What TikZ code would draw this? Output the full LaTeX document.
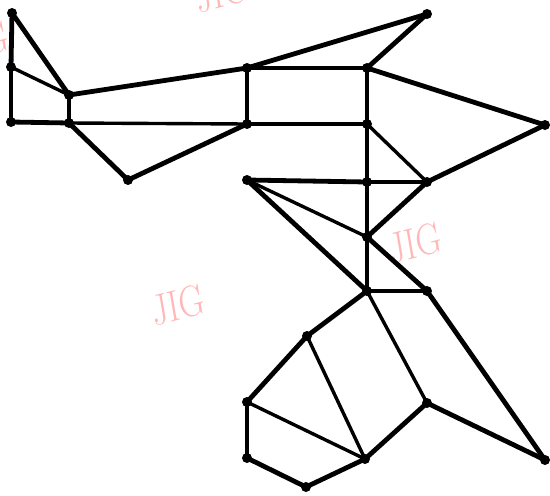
\documentclass[tikz,border=0pt]{standalone}
\begin{document}
\begin{tikzpicture}[x=1pt,y=-1pt,
  dot/.style={circle,fill=black,inner sep=0pt,minimum size=10pt},
  thk/.style={line width=4.8pt,line cap=round,line join=round},
  thn/.style={line width=3.4pt,line cap=round,line join=round},
  wm/.style={text=red!28,font=\fontsize{44}{46}\selectfont,xscale=0.8,rotate=12,inner sep=0pt}]
\useasboundingbox (0,0) rectangle (550,496);
\begin{scope}
\clip (0,0) rectangle (550,496);
\node[wm] (w1) at (178,305) {JIG};
\node[wm] (w2) at (415,243) {JIG};
\node[wm] (w3) at (222,-8) {JIG};
\node[wm] (w4) at (-18,42) {JIG};
\end{scope}
% nodes
\node[dot] (A) at (12,13) {};
\node[dot] (B) at (11,67) {};
\node[dot] (C) at (69,95) {};
\node[dot] (D) at (11,122) {};
\node[dot] (E) at (69,123) {};
\node[dot] (F) at (128,180) {};
\node[dot] (G) at (247,68) {};
\node[dot] (H) at (247,124) {};
\node[dot] (I) at (247,180) {};
\node[dot] (J) at (427,14) {};
\node[dot] (K) at (367,68) {};
\node[dot] (L) at (545,125) {};
\node[dot] (M) at (367,124) {};
\node[dot] (N) at (427,182) {};
\node[dot] (O) at (367,182) {};
\node[dot] (P) at (367,237) {};
\node[dot] (Q) at (367,291) {};
\node[dot] (R) at (427,291) {};
\node[dot] (S) at (307,336) {};
\node[dot] (T) at (247,402) {};
\node[dot] (U) at (247,458) {};
\node[dot] (V) at (306,487) {};
\node[dot] (W) at (365,459) {};
\node[dot] (X) at (427,403) {};
\node[dot] (Y) at (545,460) {};
% edges
\draw[thk] (A.center) -- (B.center);
\draw[thk] (B.center) -- (D.center);
\draw[thk] (A.center) -- (C.center);
\draw[thn] (B.center) -- (C.center);
\draw[thn] (C.center) -- (E.center);
\draw[thk] (D.center) -- (E.center);
\draw[thk] (C.center) -- (G.center);
\draw[thn] (E.center) -- (H.center);
\draw[thk] (E.center) -- (F.center);
\draw[thk] (F.center) -- (H.center);
\draw[thn] (G.center) -- (H.center);
\draw[thn] (G.center) -- (K.center);
\draw[thk] (G.center) -- (J.center);
\draw[thk] (J.center) -- (K.center);
\draw[thk] (K.center) -- (L.center);
\draw[thn] (K.center) -- (M.center);
\draw[thk] (H.center) -- (M.center);
\draw[thn] (M.center) -- (N.center);
\draw[thk] (L.center) -- (N.center);
\draw[thk] (M.center) -- (O.center);
\draw[thk] (I.center) -- (O.center);
\draw[thn] (O.center) -- (N.center);
\draw[thn] (I.center) -- (P.center);
\draw[thk] (I.center) -- (Q.center);
\draw[thk] (N.center) -- (P.center);
\draw[thn] (O.center) -- (P.center);
\draw[thn] (P.center) -- (Q.center);
\draw[thk] (P.center) -- (R.center);
\draw[thn] (Q.center) -- (R.center);
\draw[thk] (R.center) -- (Y.center);
\draw[thk] (Q.center) -- (S.center);
\draw[thn] (Q.center) -- (X.center);
\draw[thk] (S.center) -- (T.center);
\draw[thn] (S.center) -- (W.center);
\draw[thn] (T.center) -- (W.center);
\draw[thk] (T.center) -- (U.center);
\draw[thk] (U.center) -- (V.center);
\draw[thk] (V.center) -- (W.center);
\draw[thk] (W.center) -- (X.center);
\draw[thk] (X.center) -- (Y.center);
\end{tikzpicture}
\end{document}
